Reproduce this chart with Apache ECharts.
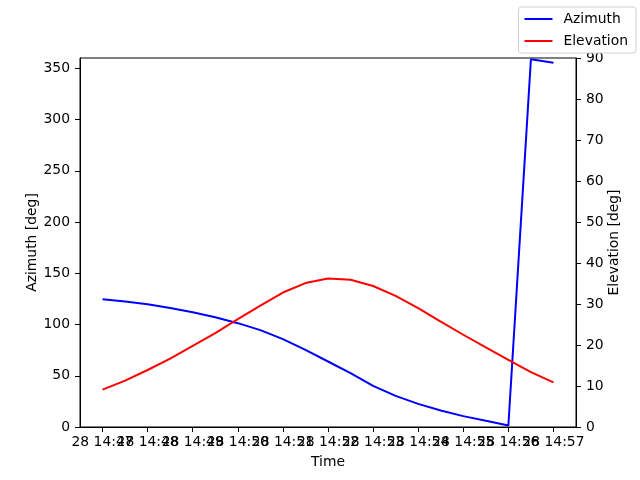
<!DOCTYPE html>
<html>
<head>
<meta charset="utf-8">
<script src="https://cdn.jsdelivr.net/npm/echarts@6/dist/echarts.min.js"></script>
<style>
html,body{margin:0;padding:0;background:#fff;}
#chart{width:640px;height:480px;}
</style>
</head>
<body>
<div id="chart"></div>
<script>
// Sample times (every 30 s)
var times = ["14:47:00","14:47:30","14:48:00","14:48:30","14:49:00","14:49:30","14:50:00","14:50:30",
             "14:51:00","14:51:30","14:52:00","14:52:30","14:53:00","14:53:30","14:54:00","14:54:30",
             "14:55:00","14:55:30","14:56:00","14:56:30","14:57:00"];
var azimuth = [124.7,122.4,119.8,116.2,112.0,107.1,101.3,94.5,85.7,75.3,63.9,52.5,40.2,30.4,22.6,16.1,10.6,6.0,1.5,358.7,355.4];
var elevation = [9.1,11.3,13.9,16.7,19.8,22.9,26.3,29.6,32.8,35.1,36.2,35.9,34.4,32.0,29.0,25.7,22.5,19.4,16.4,13.4,10.9];
// x tick labels (one per minute)
var xTickTimes = ["14:47:00","14:48:00","14:49:00","14:50:00","14:51:00","14:52:00","14:53:00","14:54:00","14:55:00","14:56:00","14:57:00"];
var xTickLabels = ["28 14:47","28 14:48","28 14:49","28 14:50","28 14:51","28 14:52","28 14:53","28 14:54","28 14:55","28 14:56","28 14:57"];
var azTicks = [0,50,100,150,200,250,300,350];
var elTicks = [0,10,20,30,40,50,60,70,80,90];

function toSec(t){var p=t.split(':');return (+p[0])*3600+(+p[1])*60+(+p[2]);}
var t0 = toSec(times[0]);
function rel(t){return toSec(t)-t0;}
var xTickVals = xTickTimes.map(rel);
var azData = times.map(function(t,i){return [rel(t),azimuth[i]];});
var elData = times.map(function(t,i){return [rel(t),elevation[i]];});
var span = rel(times[times.length-1]);
var step = xTickVals[1]-xTickVals[0];

var FONT = 'DejaVu Sans';
var FS = 13.9;
var BLACK = '#000';
function tick(vals){return {show:true,length:5,inside:false,lineStyle:{color:BLACK,width:1},customValues:vals};}
function label(vals){return {color:BLACK,fontFamily:FONT,fontSize:FS,margin:10,customValues:vals};}
var nameStyle = {color:BLACK,fontFamily:FONT,fontSize:FS};
var axLine = {show:true,onZero:false,lineStyle:{color:BLACK,width:1}};

var chart = echarts.init(document.getElementById('chart'),null,{renderer:'canvas'});
chart.setOption({
  animation:false,
  backgroundColor:'#fff',
  grid:{left:80,right:64,top:58,bottom:53,show:true,borderColor:BLACK,borderWidth:1,backgroundColor:'transparent'},
  legend:{
    orient:'vertical', right:4, top:7,
    backgroundColor:'#fff', borderColor:'#d0d0d0', borderWidth:1, borderRadius:3,
    padding:[5,8,5,6], itemGap:8, itemWidth:28, itemHeight:2, icon:'rect',
    textStyle:{color:BLACK,fontFamily:FONT,fontSize:FS,padding:[0,0,0,6]},
    data:['Azimuth','Elevation']
  },
  xAxis:[
    {type:'value', position:'bottom', min:-step/2, max:span+step/2,
     name:'Time', nameLocation:'middle', nameGap:28, nameTextStyle:nameStyle,
     axisLine:axLine, axisTick:tick(xTickVals), splitLine:{show:false},
     axisLabel:{show:false}},
    {type:'category', position:'bottom', data:xTickLabels, boundaryGap:true,
     axisLine:{show:false,onZero:false}, axisTick:{show:false}, splitLine:{show:false},
     axisLabel:{show:true,interval:0,color:BLACK,fontFamily:FONT,fontSize:FS,margin:8,hideOverlap:false}}
  ],
  yAxis:[
    {type:'value', min:0, max:360, position:'left',
     name:'Azimuth [deg]', nameLocation:'middle', nameGap:41, nameMoveOverlap:false, nameTextStyle:nameStyle,
     axisLine:axLine, axisTick:tick(azTicks), axisLabel:label(azTicks), splitLine:{show:false}},
    {type:'value', min:0, max:90, interval:10, position:'right',
     name:'Elevation [deg]', nameLocation:'middle', nameGap:31, nameMoveOverlap:false, nameTextStyle:nameStyle,
     axisLine:axLine, axisTick:tick(elTicks), axisLabel:label(elTicks), splitLine:{show:false}}
  ],
  series:[
    {name:'Azimuth',type:'line',data:azData,xAxisIndex:0,yAxisIndex:0,showSymbol:false,symbol:'none',
     lineStyle:{color:'#0000ff',width:2},itemStyle:{color:'#0000ff'}},
    {name:'Elevation',type:'line',data:elData,xAxisIndex:0,yAxisIndex:1,showSymbol:false,symbol:'none',
     lineStyle:{color:'#ff0000',width:2},itemStyle:{color:'#ff0000'}}
  ]
});
</script>
</body>
</html>
